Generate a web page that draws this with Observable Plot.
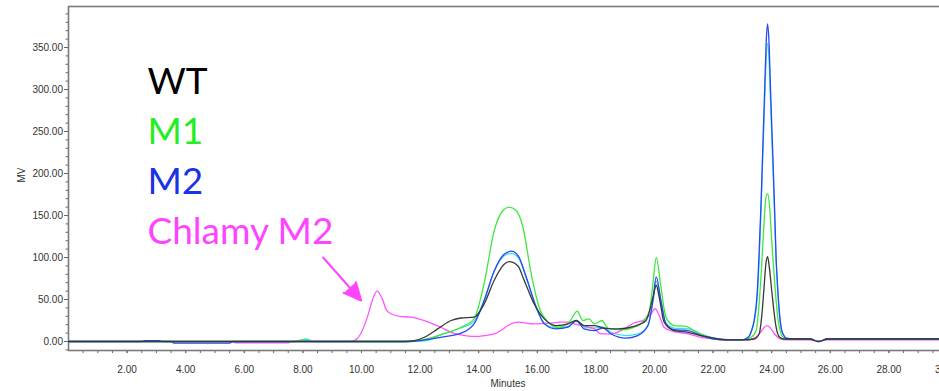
<!DOCTYPE html>
<html><head><meta charset="utf-8">
<script src="https://cdn.jsdelivr.net/npm/d3@7"></script>
<script src="https://cdn.jsdelivr.net/npm/@observablehq/plot@0.6"></script>
<style>
html,body{margin:0;padding:0;background:#fff;overflow:hidden;width:939px;height:391px}
#chart{width:960px;height:391px;overflow:hidden}
#chart svg{display:block;max-width:none !important;width:960px !important;height:391px !important}
</style></head><body><div id="chart"></div>
<script>
// [minutes, mV]
const wt = [[0,0],[11.5,0],[11.8,1],[12.2,6],[12.6,15],[13.06,25],[13.4,28],[13.84,29],[14.19,45],[14.53,73],[14.87,92],[15.04,95],[15.34,90],[15.55,73],[15.89,45],[16.24,27],[16.64,19],[17.05,21],[17.33,25],[17.6,19],[17.94,19],[18.28,16],[18.76,15],[19.3,18],[19.71,25],[19.95,53],[20.06,67],[20.16,53],[20.33,23],[20.67,13],[21.15,11],[21.59,7],[22.04,4],[22.5,2],[23.0,2],[23.4,3],[23.57,9],[23.66,30],[23.74,65],[23.8,92],[23.86,101],[23.92,88],[24.0,61],[24.08,35],[24.15,17],[24.25,6],[24.4,3],[24.6,3],[25.3,3],[25.6,0],[25.9,3],[30,3]];
const m1 = [[0,0],[7.7,0],[8.0,2],[8.3,0],[11.7,0],[12.2,3],[12.7,8],[13.4,17],[13.84,27],[14.19,70],[14.53,132],[14.83,156],[15.04,160],[15.28,156],[15.51,136],[15.79,81],[16.06,41],[16.37,23],[16.71,17],[17.09,23],[17.36,36],[17.56,25],[17.77,27],[17.94,21],[18.21,25],[18.41,16],[18.86,14],[19.43,19],[19.82,35],[19.95,70],[20.06,100],[20.22,65],[20.39,29],[20.67,19],[21.08,18],[21.35,13],[21.69,7],[22.04,3],[22.5,2],[23.0,2],[23.3,5],[23.47,13],[23.56,40],[23.64,80],[23.72,130],[23.79,168],[23.86,176],[23.93,160],[24.0,120],[24.08,80],[24.15,49],[24.22,25],[24.29,13],[24.36,6],[24.45,4],[24.6,3],[25.3,3],[25.6,0],[25.9,3],[30,3]];
const m2 = [[0,0],[2.5,0],[2.6,1],[3.1,1],[3.2,0],[3.5,0],[3.6,-2],[5.5,-2],[5.6,0],[11.5,0],[12.0,1],[12.7,5],[13.4,10],[13.84,21],[14.19,49],[14.53,84],[14.87,104],[15.11,107.5],[15.35,102],[15.62,77],[15.96,41],[16.24,21],[16.64,15],[17.05,17],[17.33,25],[17.6,15],[17.94,13],[18.24,16],[18.52,9],[19.03,4],[19.43,7],[19.78,19],[19.95,50],[20.06,77],[20.22,49],[20.39,21],[20.67,14],[21.15,13],[21.59,7],[22.04,3],[22.5,2],[23.0,2],[23.2,5],[23.3,12],[23.4,25],[23.5,55],[23.57,105],[23.64,168],[23.7,235],[23.76,300],[23.81,355],[23.86,378],[23.91,355],[23.96,300],[24.02,240],[24.09,168],[24.15,100],[24.21,61],[24.27,32],[24.32,17],[24.4,8],[24.5,4],[24.7,3],[25.3,3],[25.6,0],[25.9,3],[30,3]];
const chlamyM2 = [[0,0],[5.6,0],[5.7,-1.5],[7.5,-1.5],[7.6,0],[9.6,0],[9.8,2],[10.0,11],[10.2,29],[10.4,52],[10.53,60],[10.73,49],[10.84,38],[11.01,33],[11.3,30],[11.69,29],[12.14,25],[12.7,17],[13.06,11],[13.4,8],[13.84,6],[14.2,7],[14.53,9],[14.8,14],[15.0,19],[15.35,23],[15.89,21],[16.47,22],[16.81,23],[17.05,23],[17.26,21],[17.94,15],[18.18,9],[18.52,9],[18.86,13],[19.3,22],[19.65,26],[19.88,33],[20.02,39],[20.16,31],[20.33,17],[20.56,13],[21.15,9],[21.59,5],[22.17,3],[22.8,2],[23.2,2],[23.4,4],[23.6,10],[23.75,17],[23.84,19],[23.93,17],[24.1,9],[24.3,3],[24.5,2],[25.3,2],[25.6,0],[25.9,2],[30,2]];
// unlabeled cyan trace visible under M2
const cyanTrace = [[0,0],[7.8,0],[8.1,3],[8.4,0],[11.5,0],[12.2,1],[12.7,8],[13.3,15],[13.84,24],[14.19,50],[14.53,84],[14.87,102],[15.11,105],[15.35,100],[15.62,76],[15.96,41],[16.24,22],[16.64,16],[17.05,18],[17.33,24],[17.6,17],[17.94,16],[18.24,17],[18.52,11],[19.03,7],[19.43,9],[19.78,20],[19.95,48],[20.06,72],[20.22,47],[20.39,22],[20.67,16],[21.15,15],[21.59,9],[22.04,4],[22.5,2],[23.0,2],[23.2,5],[23.3,11],[23.4,24],[23.5,50],[23.57,95],[23.64,160],[23.7,225],[23.76,285],[23.81,335],[23.86,355],[23.91,335],[23.96,285],[24.02,228],[24.09,160],[24.15,96],[24.21,58],[24.27,30],[24.32,16],[24.4,8],[24.5,4],[24.7,3],[25.3,3],[25.6,0],[25.9,3],[30,3]];

const seriesNames = ["cyan", "Chlamy M2", "M1", "M2", "WT"];
const seriesColors = ["#36e0e8", "#ff55ff", "#3ee83e", "#2a48f0", "#383838"];
const legendLabels = ["WT", "M1", "M2", "Chlamy M2"];
const legendColors = ["#000000", "#22ee22", "#1a33e6", "#ff44ff"];
const yMajor = [0, 50, 100, 150, 200, 250, 300, 350];
const xMajor = [2, 4, 6, 8, 10, 12, 14, 16, 18, 20, 22, 24, 26, 28, 30];
const yMinor = d3.range(-10, 400, 10);
const xMinor = d3.range(0.5, 30.01, 0.5);
const arrowNote = [{x1: 8.69, y1: 100, x2: 9.99, y2: 48.8}];

const traces = [cyanTrace, chlamyM2, m1, m2, wt];
const rows = traces.flatMap((arr, i) => arr.map(([t, v]) => ({series: seriesNames[i], t, v})));
const fmt = d3.format(".2f");
const axisFont = "'Liberation Sans', Arial, sans-serif";

const legendMarks = legendLabels.map((lab, i) => Plot.text([lab], {
  frameAnchor: "top-left", text: d => d, dx: 79, dy: 61 + i * 50,
  lineAnchor: "top", textAnchor: "start", fill: legendColors[i],
  fontSize: 37, fontFamily: "Lato, 'Open Sans', sans-serif"
}));

const chart = Plot.plot({
  width: 960, height: 391,
  marginLeft: 68, marginRight: 13, marginTop: 6, marginBottom: 41,
  style: {fontFamily: axisFont, fontSize: "10px", color: "#333", background: "#fff"},
  x: {domain: [0, 30]},
  y: {domain: [-10.7, 398.8]},
  color: {domain: seriesNames, range: seriesColors},
  marks: [
    Plot.axisY({ticks: yMinor, tickSize: 2.5, fill: "none", stroke: "#666", label: null}),
    Plot.axisY({ticks: yMajor, tickSize: 4, tickPadding: 1.5, tickFormat: fmt, stroke: "#666", fill: "#333", label: null}),
    Plot.axisX({ticks: xMinor, tickSize: 3, fill: "none", stroke: "#666", label: null}),
    Plot.axisX({ticks: xMajor, tickSize: 3, tickPadding: 12, tickFormat: fmt, stroke: "#666", fill: "#333", label: null}),
    Plot.frame({stroke: "#7a7a7a", strokeWidth: 1.6}),
    Plot.line(rows, {x: "t", y: "v", z: "series", stroke: "series", strokeWidth: 1.3, curve: "monotone-x"}),
    Plot.arrow(arrowNote, {x1: "x1", y1: "y1", x2: "x2", y2: "y2", stroke: "#ff44ff", fill: "#ff44ff", strokeWidth: 2, headLength: 16, headAngle: 50}),
    ...legendMarks,
    Plot.text(["MV"], {frameAnchor: "left", text: d => d, dx: -47, dy: 4, rotate: -90, fontSize: 10, fill: "#333"}),
    Plot.text(["Minutes"], {frameAnchor: "bottom", text: d => d, dy: 36, fontSize: 10, fill: "#333"})
  ]
});
document.getElementById("chart").appendChild(chart);
</script></body></html>
